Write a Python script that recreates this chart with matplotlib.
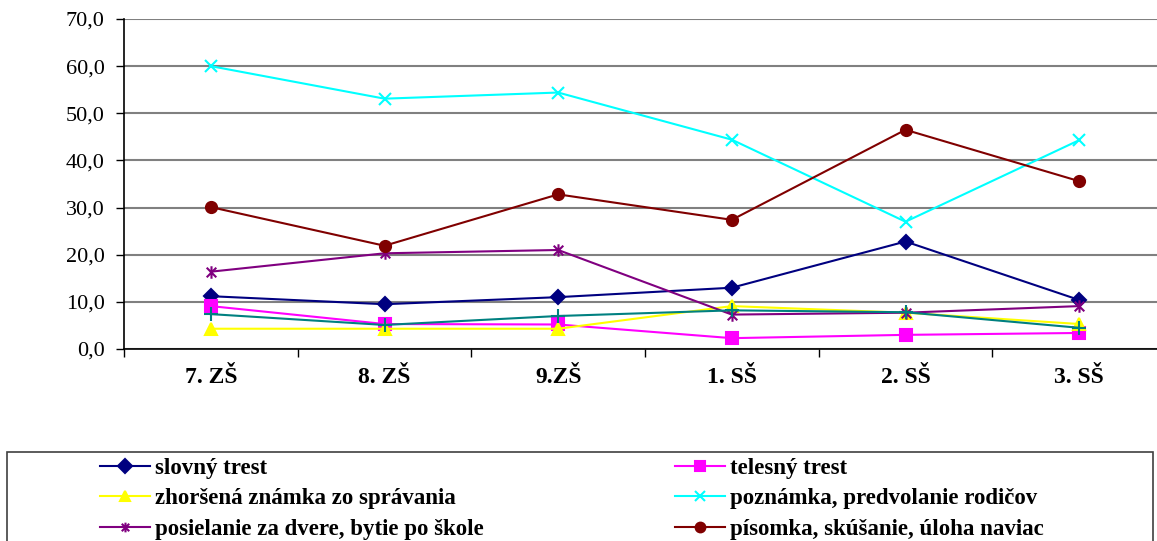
import matplotlib
matplotlib.use('Agg')
import matplotlib.pyplot as plt
from matplotlib.path import Path
from matplotlib.patches import Rectangle

# Data
categories = ['7. ZŠ', '8. ZŠ', '9.ZŠ', '1. SŠ', '2. SŠ', '3. SŠ']
slovny = [11.2, 9.5, 11.0, 13.0, 22.8, 10.4]
telesny = [9.1, 5.3, 5.2, 2.3, 3.0, 3.4]
zhorsena = [4.3, 4.3, 4.3, 9.1, 7.7, 5.3]
poznamka = [60.0, 53.1, 54.4, 44.4, 27.0, 44.3]
posielanie = [16.4, 20.3, 21.0, 7.3, 7.7, 9.1]
pisomka = [30.1, 21.9, 32.8, 27.4, 46.5, 35.6]
teal_series = [7.4, 5.1, 7.0, 8.2, 7.8, 4.5]
y_ticks = [0, 10, 20, 30, 40, 50, 60, 70]

plt.rcParams['font.family'] = ['Liberation Serif', 'DejaVu Serif']

W, H = 1157, 541

# Excel-like star marker: x with a vertical bar
star = Path([(-1, -1), (1, 1), (-1, 1), (1, -1), (0, -1.3), (0, 1.3)],
            [Path.MOVETO, Path.LINETO, Path.MOVETO, Path.LINETO, Path.MOVETO, Path.LINETO])

fig = plt.figure(figsize=(W / 100, H / 100), dpi=100)
ax = fig.add_axes([124 / W, 1 - 349 / H, 1042 / W, 330 / H])

x = list(range(len(categories)))
lw = 1.5
series = [
    (slovny, '#000080', 'D', 7, 'slovný trest'),
    (telesny, '#FF00FF', 's', 8, 'telesný trest'),
    (zhorsena, '#FFFF00', '^', 9, 'zhoršená známka zo správania'),
    (poznamka, '#00FFFF', 'x', 8, 'poznámka, predvolanie rodičov'),
    (posielanie, '#800080', star, 9, 'posielanie za dvere, bytie po škole'),
    (pisomka, '#800000', 'o', 8, 'písomka, skúšanie, úloha naviac'),
    (teal_series, '#008080', '+', 10, None),
]
handles = {}
for vals, col, mk, ms, lab in series:
    ln, = ax.plot(x, vals, color=col, lw=lw, marker=mk, markersize=ms,
                  markeredgewidth=1.5, markerfacecolor=col, markeredgecolor=col,
                  clip_on=False, label=lab)
    if lab:
        handles[lab] = ln

ax.set_xlim(-0.5, 5.5)
ax.set_ylim(0, 70)
ax.set_yticks(y_ticks)
ax.set_yticklabels([f'{v:.1f}'.replace('.', ',') for v in y_ticks], fontsize=16)
ax.yaxis.grid(True, color='#808080', lw=1.5)
ax.set_axisbelow(True)

ax.set_xticks(x)
ax.set_xticklabels(categories, fontsize=17, fontweight='bold')
ax.set_xticks([-0.5, 0.5, 1.5, 2.5, 3.5, 4.5, 5.5], minor=True)
ax.tick_params(axis='x', which='major', length=0, pad=13)
ax.tick_params(axis='x', which='minor', length=6, direction='out', width=1)
ax.tick_params(axis='y', length=6, direction='out', width=1, pad=8)

for s in ['top', 'right']:
    ax.spines[s].set_visible(False)
for s in ['left', 'bottom']:
    ax.spines[s].set_color('black')
    ax.spines[s].set_linewidth(1.2)

# legend box (its bottom runs off the picture)
fig.add_artist(Rectangle((7 / W, -0.05), (1153 - 7) / W, 1 - 452 / H + 0.05,
                         transform=fig.transFigure, fill=False,
                         edgecolor='#404040', lw=1.2))

col1 = ['slovný trest', 'zhoršená známka zo správania', 'posielanie za dvere, bytie po škole']
col2 = ['telesný trest', 'poznámka, predvolanie rodičov', 'písomka, skúšanie, úloha naviac']
fs = 16.5
for labels, x0 in [(col1, 100), (col2, 675)]:
    leg = fig.legend([handles[k] for k in labels], labels, loc='upper left',
                     bbox_to_anchor=(x0 / W, 1 - 458 / H),
                     prop={'weight': 'bold', 'size': fs}, frameon=False,
                     handlelength=2.2, handletextpad=0.2, borderaxespad=0,
                     borderpad=0, labelspacing=0.41)
    for h in leg.legend_handles:
        h.set_markersize(7)

fig.savefig('out.png', dpi=100)
